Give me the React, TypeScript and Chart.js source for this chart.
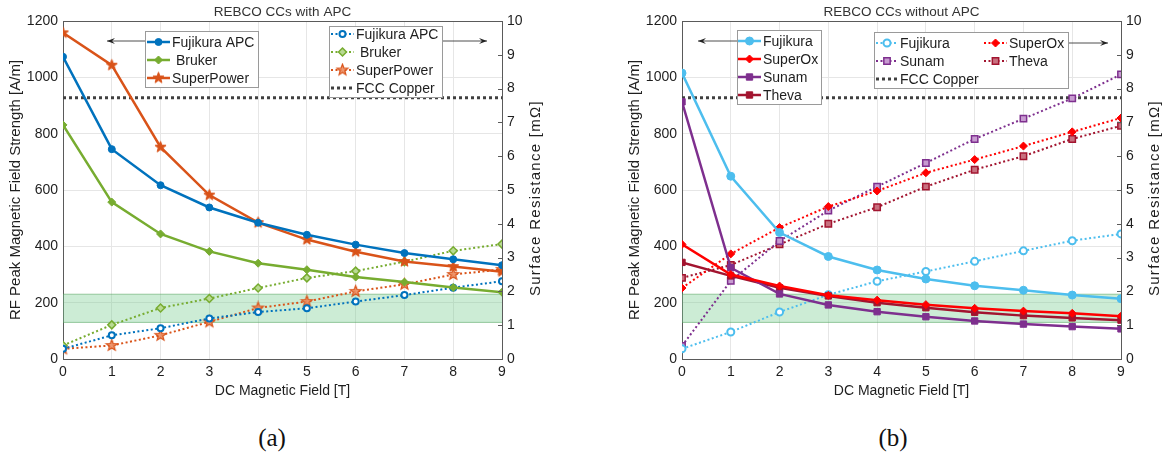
import React, { useEffect, useRef } from "react";
import { Chart, registerables } from "chart.js";
import { drawPoint } from "chart.js/helpers";

Chart.register(...registerables);

const FONT = '"Liberation Sans", Arial, sans-serif';

// ---------- data ----------
const fieldT = [0, 1, 2, 3, 4, 5, 6, 7, 8, 9];

// Panel (a) – REBCO CCs with APC
const aFujikuraApcH = [1073, 745, 617, 538, 484, 441, 406, 376, 354, 333];
const aBrukerH = [831, 557, 444, 382, 340, 317, 291, 273, 254, 237];
const aSuperPowerH = [1158, 1043, 752, 582, 484, 424, 381, 346, 328, 310];
const aFujikuraApcRs = [0.3, 0.7, 0.91, 1.2, 1.39, 1.5, 1.7, 1.89, 2.11, 2.3];
const aBrukerRs = [0.4, 1.01, 1.51, 1.79, 2.1, 2.4, 2.6, 2.88, 3.2, 3.4];
const aSuperPowerRs = [0.3, 0.4, 0.7, 1.1, 1.51, 1.7, 2.0, 2.21, 2.5, 2.65];

// Panel (b) – REBCO CCs without APC
const bFujikuraH = [1015, 649, 449, 364, 316, 284, 260, 244, 227, 214];
const bSuperOxH = [407, 300, 259, 226, 209, 193, 180, 170, 162, 152];
const bSunamH = [913, 324, 231, 192, 168, 150, 135, 124, 115, 107];
const bThevaH = [343, 295, 253, 224, 200, 182, 166, 154, 146, 138];
const bFujikuraRs = [0.3, 0.8, 1.39, 1.9, 2.3, 2.59, 2.89, 3.2, 3.5, 3.7];
const bSuperOxRs = [2.1, 3.11, 3.89, 4.51, 4.97, 5.51, 5.9, 6.3, 6.72, 7.13];
const bSunamRs = [0.39, 2.31, 3.49, 4.39, 5.1, 5.8, 6.51, 7.11, 7.71, 8.42];
const bThevaRs = [2.4, 2.78, 3.39, 4.0, 4.49, 5.1, 5.6, 6.0, 6.51, 6.9];

const fccCopperRs = 7.73;
const bandH = [130, 230];

const hAxis = { min: 0, max: 1200, step: 200 };
const rsAxis = { min: 0, max: 10, step: 1 };

const titles = ["REBCO CCs with APC", "REBCO CCs without APC"];
const captions = ["(a)", "(b)"];
const xTitle = "DC Magnetic Field [T]";
const yTitle = "RF Peak Magnetic Field Strength [A/m]";
const y1Title = "Surface Resistance [mΩ]";

// ---------- colours ----------
const C_BLUE = "#0072BD";
const C_GREEN = "#77AC30";
const C_ORANGE = "#D95319";
const C_LBLUE = "#4DBEEE";
const C_RED = "#FF0000";
const C_PURPLE = "#7E2F8E";
const C_DRED = "#A2142F";
const AXIS = "#5a5a5a";
const TXT = "#1e1e1e";

function makeStar(r: number, fill: string, stroke: string, lw: number) {
  const size = Math.ceil(2 * r + lw + 2);
  const c = document.createElement("canvas");
  c.width = size;
  c.height = size;
  const ctx = c.getContext("2d")!;
  const cx = size / 2;
  const cy = size / 2;
  ctx.beginPath();
  for (let i = 0; i < 10; i++) {
    const rr = i % 2 === 0 ? r : r * 0.42;
    const a = -Math.PI / 2 + (i * Math.PI) / 5;
    ctx.lineTo(cx + rr * Math.cos(a), cy + rr * Math.sin(a));
  }
  ctx.closePath();
  ctx.fillStyle = fill;
  ctx.fill();
  ctx.lineWidth = lw;
  ctx.strokeStyle = stroke;
  ctx.stroke();
  return c;
}

function xy(vals: number[]) {
  return fieldT.map((x, i) => ({ x, y: vals[i] }));
}

function series(
  label: string,
  vals: number[],
  color: string,
  axis: string,
  dotted: boolean,
  pointStyle: any,
  radius: number,
  pointFill: string,
  pointBorderWidth = 1
) {
  return {
    label,
    data: xy(vals),
    yAxisID: axis,
    borderColor: color,
    backgroundColor: color,
    borderWidth: dotted ? 2 : 2.5,
    borderDash: dotted ? [2, 2.5] : [],
    pointStyle,
    pointRadius: radius,
    pointBackgroundColor: pointFill,
    pointBorderColor: color,
    pointBorderWidth,
    tension: 0,
    fill: false,
    order: dotted ? 2 : 1,
  };
}

function copperSeries() {
  return {
    label: "FCC Copper",
    data: fieldT.map((x) => ({ x, y: fccCopperRs })),
    yAxisID: "y1",
    borderColor: "#404040",
    backgroundColor: "#404040",
    borderWidth: 3,
    borderDash: [3, 3],
    pointRadius: 0,
    fill: false,
    order: 3,
  };
}

function bandSeries() {
  const x0 = fieldT[0];
  const x1 = fieldT[fieldT.length - 1];
  return [
    {
      label: "band-low",
      data: [
        { x: x0, y: bandH[0] },
        { x: x1, y: bandH[0] },
      ],
      yAxisID: "y",
      borderColor: "rgba(80,160,90,0.55)",
      borderWidth: 1,
      pointRadius: 0,
      fill: false,
      order: 10,
    },
    {
      label: "band-high",
      data: [
        { x: x0, y: bandH[1] },
        { x: x1, y: bandH[1] },
      ],
      yAxisID: "y",
      borderColor: "rgba(80,160,90,0.55)",
      borderWidth: 1,
      pointRadius: 0,
      fill: "-1",
      backgroundColor: "rgba(120,205,145,0.38)",
      order: 10,
    },
  ];
}

type LegendItem = { ds: number; x1: number; x2: number; tx: number; y: number };
type LegendBox = {
  box: [number, number, number, number];
  items: LegendItem[];
  arrow: { from: number; to: number; y: number };
};

function drawSample(ctx: CanvasRenderingContext2D, ds: any, it: LegendItem) {
  ctx.save();
  ctx.strokeStyle = ds.borderColor;
  ctx.lineWidth = ds.borderWidth;
  ctx.setLineDash(ds.borderDash || []);
  ctx.beginPath();
  ctx.moveTo(it.x1, it.y);
  ctx.lineTo(it.x2, it.y);
  ctx.stroke();
  ctx.setLineDash([]);
  if (ds.pointRadius > 0) {
    ctx.fillStyle = ds.pointBackgroundColor;
    ctx.strokeStyle = ds.pointBorderColor;
    ctx.lineWidth = ds.pointBorderWidth;
    drawPoint(
      ctx,
      {
        pointStyle: ds.pointStyle,
        radius: ds.pointRadius,
        borderWidth: ds.pointBorderWidth,
        rotation: 0,
      } as any,
      (it.x1 + it.x2) / 2,
      it.y
    );
  }
  ctx.restore();
  ctx.fillStyle = TXT;
  ctx.font = `14px ${FONT}`;
  ctx.textBaseline = "middle";
  ctx.textAlign = "left";
  ctx.fillText(ds.label, it.tx, it.y + 1);
}

function drawArrow(ctx: CanvasRenderingContext2D, from: number, to: number, y: number) {
  ctx.save();
  ctx.strokeStyle = "#222";
  ctx.fillStyle = "#222";
  ctx.lineWidth = 0.8;
  ctx.beginPath();
  ctx.moveTo(from, y);
  ctx.lineTo(to, y);
  ctx.stroke();
  const d = to > from ? 1 : -1;
  ctx.beginPath();
  ctx.moveTo(to, y);
  ctx.lineTo(to - d * 8, y - 3);
  ctx.lineTo(to - d * 5, y);
  ctx.lineTo(to - d * 8, y + 3);
  ctx.closePath();
  ctx.fill();
  ctx.restore();
}

function makeOverlay(title: string, legends: LegendBox[]) {
  return {
    id: "overlay",
    afterDraw(chart: any) {
      const ctx: CanvasRenderingContext2D = chart.ctx;
      const a = chart.chartArea;
      const y1 = chart.scales.y1;
      ctx.save();
      ctx.strokeStyle = AXIS;
      ctx.lineWidth = 1;
      // top border of the box
      ctx.beginPath();
      ctx.moveTo(a.left, a.top + 0.5);
      ctx.lineTo(a.right, a.top + 0.5);
      ctx.stroke();
      // inward tick marks on the right axis
      for (let v = rsAxis.min; v <= rsAxis.max; v += rsAxis.step) {
        const py = Math.round(y1.getPixelForValue(v)) + 0.5;
        ctx.beginPath();
        ctx.moveTo(a.right - 4, py);
        ctx.lineTo(a.right, py);
        ctx.stroke();
      }
      ctx.restore();
      // title
      ctx.save();
      ctx.fillStyle = "#333";
      ctx.font = `13.5px ${FONT}`;
      ctx.textAlign = "center";
      ctx.textBaseline = "middle";
      ctx.fillText(title, (a.left + a.right) / 2, a.top - 9);
      ctx.restore();
      // y axis titles (both read bottom-to-top)
      const midY = (a.top + a.bottom) / 2;
      ctx.save();
      ctx.fillStyle = TXT;
      ctx.font = `15px ${FONT}`;
      ctx.textAlign = "center";
      ctx.textBaseline = "middle";
      ctx.translate(a.left - 47, midY);
      ctx.rotate(-Math.PI / 2);
      ctx.fillText(yTitle, 0, 0);
      ctx.restore();
      ctx.save();
      ctx.fillStyle = TXT;
      ctx.font = `15px ${FONT}`;
      (ctx as any).letterSpacing = "1.3px";
      ctx.textAlign = "center";
      ctx.textBaseline = "middle";
      ctx.translate(a.right + 34, midY + 8);
      ctx.rotate(-Math.PI / 2);
      ctx.fillText(y1Title, 0, 0);
      ctx.restore();
      // legends
      for (const lg of legends) {
        const [x1, yy1, x2, y2] = lg.box;
        drawArrow(ctx, lg.arrow.from, lg.arrow.to, lg.arrow.y);
        ctx.save();
        ctx.fillStyle = "#fff";
        ctx.fillRect(x1, yy1, x2 - x1, y2 - yy1);
        ctx.strokeStyle = "#9a9a9a";
        ctx.lineWidth = 1;
        ctx.strokeRect(x1 + 0.5, yy1 + 0.5, x2 - x1, y2 - yy1);
        ctx.restore();
        for (const it of lg.items) {
          drawSample(ctx, chart.data.datasets[it.ds], it);
        }
      }
    },
  };
}

const tickFont = { family: FONT, size: 14 };
const titleFont = { family: FONT, size: 14 };
const plain = (v: any) => String(v);

function buildOptions(H: number, leftW: number, rightW: number) {
  return {
    animation: false,
    responsive: false,
    maintainAspectRatio: false,
    devicePixelRatio: 1,
    layout: { padding: { top: 21, left: 0, right: 0, bottom: 0 } },
    plugins: {
      legend: { display: false },
      tooltip: { enabled: false },
      title: { display: false },
    },
    scales: {
      x: {
        type: "linear",
        min: fieldT[0],
        max: fieldT[fieldT.length - 1],
        ticks: { stepSize: 1, font: tickFont, color: TXT, padding: 5, callback: plain },
        grid: { color: "#e6e6e6", drawTicks: false },
        border: { color: AXIS },
        title: {
          display: true,
          text: xTitle,
          font: titleFont,
          color: TXT,
          padding: { top: 2, bottom: 4 },
        },
        afterFit: (s: any) => {
          s.height = H - 359;
        },
      },
      y: {
        position: "left",
        min: hAxis.min,
        max: hAxis.max,
        ticks: { stepSize: hAxis.step, font: tickFont, color: TXT, padding: 5, callback: plain },
        grid: { color: "#e6e6e6", drawTicks: false },
        border: { color: AXIS },
        title: { display: false },
        afterFit: (s: any) => {
          s.width = leftW;
        },
      },
      y1: {
        position: "right",
        min: rsAxis.min,
        max: rsAxis.max,
        ticks: { stepSize: rsAxis.step, font: tickFont, color: TXT, padding: 5, callback: plain },
        grid: { drawOnChartArea: false, drawTicks: false },
        border: { color: AXIS },
        title: { display: false },
        afterFit: (s: any) => {
          s.width = rightW;
        },
      },
    },
  };
}

function buildA() {
  const starSolid = makeStar(5.8, C_ORANGE, C_ORANGE, 1);
  const starDotted = makeStar(5.8, "rgba(236,140,95,0.9)", C_ORANGE, 1.2);
  const datasets: any[] = [
    series("Fujikura APC", aFujikuraApcH, C_BLUE, "y", false, "circle", 3.5, C_BLUE),
    series(" Bruker", aBrukerH, C_GREEN, "y", false, "rectRot", 4, C_GREEN),
    series("SuperPower", aSuperPowerH, C_ORANGE, "y", false, starSolid, 6, C_ORANGE),
    series("Fujikura APC", aFujikuraApcRs, C_BLUE, "y1", true, "circle", 3, "#ffffff", 2),
    series(" Bruker", aBrukerRs, C_GREEN, "y1", true, "rectRot", 4, "#b9da93", 1.5),
    series("SuperPower", aSuperPowerRs, C_ORANGE, "y1", true, starDotted, 6, C_ORANGE),
    copperSeries(),
    ...bandSeries(),
  ];
  const legends: LegendBox[] = [
    {
      box: [145, 31, 258, 87],
      items: [
        { ds: 0, x1: 147, x2: 170, tx: 172, y: 42 },
        { ds: 1, x1: 147, x2: 170, tx: 172, y: 60 },
        { ds: 2, x1: 147, x2: 170, tx: 172, y: 78 },
      ],
      arrow: { from: 145, to: 107, y: 41 },
    },
    {
      box: [329, 26, 442, 97],
      items: [
        { ds: 3, x1: 331, x2: 354, tx: 356, y: 34 },
        { ds: 4, x1: 331, x2: 354, tx: 356, y: 52 },
        { ds: 5, x1: 331, x2: 354, tx: 356, y: 70 },
        { ds: 6, x1: 331, x2: 354, tx: 356, y: 88 },
      ],
      arrow: { from: 442, to: 487, y: 41 },
    },
  ];
  return { datasets, legends };
}

function buildB(off: number) {
  const datasets: any[] = [
    series("Fujikura", bFujikuraH, C_LBLUE, "y", false, "circle", 4, C_LBLUE),
    series("SuperOx", bSuperOxH, C_RED, "y", false, "rectRot", 4, C_RED),
    series("Sunam", bSunamH, C_PURPLE, "y", false, "rect", 4.5, C_PURPLE),
    series("Theva", bThevaH, C_DRED, "y", false, "rect", 4.5, C_DRED),
    series("Fujikura", bFujikuraRs, C_LBLUE, "y1", true, "circle", 3.5, "#ffffff", 2),
    series("SuperOx", bSuperOxRs, C_RED, "y1", true, "rectRot", 4, C_RED),
    series("Sunam", bSunamRs, C_PURPLE, "y1", true, "rect", 4.5, "#c79bd0", 1.5),
    series("Theva", bThevaRs, C_DRED, "y1", true, "rect", 4.5, "#c8707f", 1.5),
    copperSeries(),
    ...bandSeries(),
  ];
  const legends: LegendBox[] = [
    {
      box: [737 - off, 30, 821 - off, 104],
      items: [
        { ds: 0, x1: 738 - off, x2: 761 - off, tx: 763 - off, y: 41 },
        { ds: 1, x1: 738 - off, x2: 761 - off, tx: 763 - off, y: 59 },
        { ds: 2, x1: 738 - off, x2: 761 - off, tx: 763 - off, y: 77 },
        { ds: 3, x1: 738 - off, x2: 761 - off, tx: 763 - off, y: 95 },
      ],
      arrow: { from: 737 - off, to: 698 - off, y: 41 },
    },
    {
      box: [874 - off, 32, 1068 - off, 88],
      items: [
        { ds: 4, x1: 876 - off, x2: 898 - off, tx: 900 - off, y: 43 },
        { ds: 5, x1: 984 - off, x2: 1007 - off, tx: 1009 - off, y: 43 },
        { ds: 6, x1: 876 - off, x2: 898 - off, tx: 900 - off, y: 61 },
        { ds: 7, x1: 984 - off, x2: 1007 - off, tx: 1009 - off, y: 61 },
        { ds: 8, x1: 876 - off, x2: 898 - off, tx: 900 - off, y: 79 },
      ],
      arrow: { from: 1068 - off, to: 1108 - off, y: 43 },
    },
  ];
  return { datasets, legends };
}

function Panel(props: {
  which: number;
  left: number;
  width: number;
  height: number;
  leftW: number;
  rightW: number;
}) {
  const ref = useRef<HTMLCanvasElement>(null);
  useEffect(() => {
    if (!ref.current) return;
    const built = props.which === 0 ? buildA() : buildB(props.left);
    const chart = new Chart(ref.current, {
      type: "line",
      data: { datasets: built.datasets },
      options: buildOptions(props.height, props.leftW, props.rightW) as any,
      plugins: [makeOverlay(titles[props.which], built.legends)],
    } as any);
    return () => chart.destroy();
  }, []);
  return (
    <canvas
      ref={ref}
      width={props.width}
      height={props.height}
      style={{
        position: "absolute",
        left: props.left,
        top: 0,
        width: props.width,
        height: props.height,
      }}
    />
  );
}

export default function App() {
  const H = 404;
  return (
    <div
      style={{
        position: "fixed",
        left: 0,
        top: 0,
        width: 1166,
        height: 459,
        background: "#fff",
        overflow: "hidden",
      }}
    >
      <Panel which={0} left={0} width={580} height={H} leftW={63} rightW={78} />
      <Panel which={1} left={586} width={580} height={H} leftW={96} rightW={45} />
      {captions.map((c, i) => (
        <div
          key={c}
          style={{
            position: "absolute",
            left: i === 0 ? 272 : 893,
            top: 437,
            transform: "translate(-50%, -50%)",
            fontFamily: '"Liberation Serif", "DejaVu Serif", serif',
            fontSize: 25,
            color: "#111",
            lineHeight: 1,
          }}
        >
          {c}
        </div>
      ))}
    </div>
  );
}
